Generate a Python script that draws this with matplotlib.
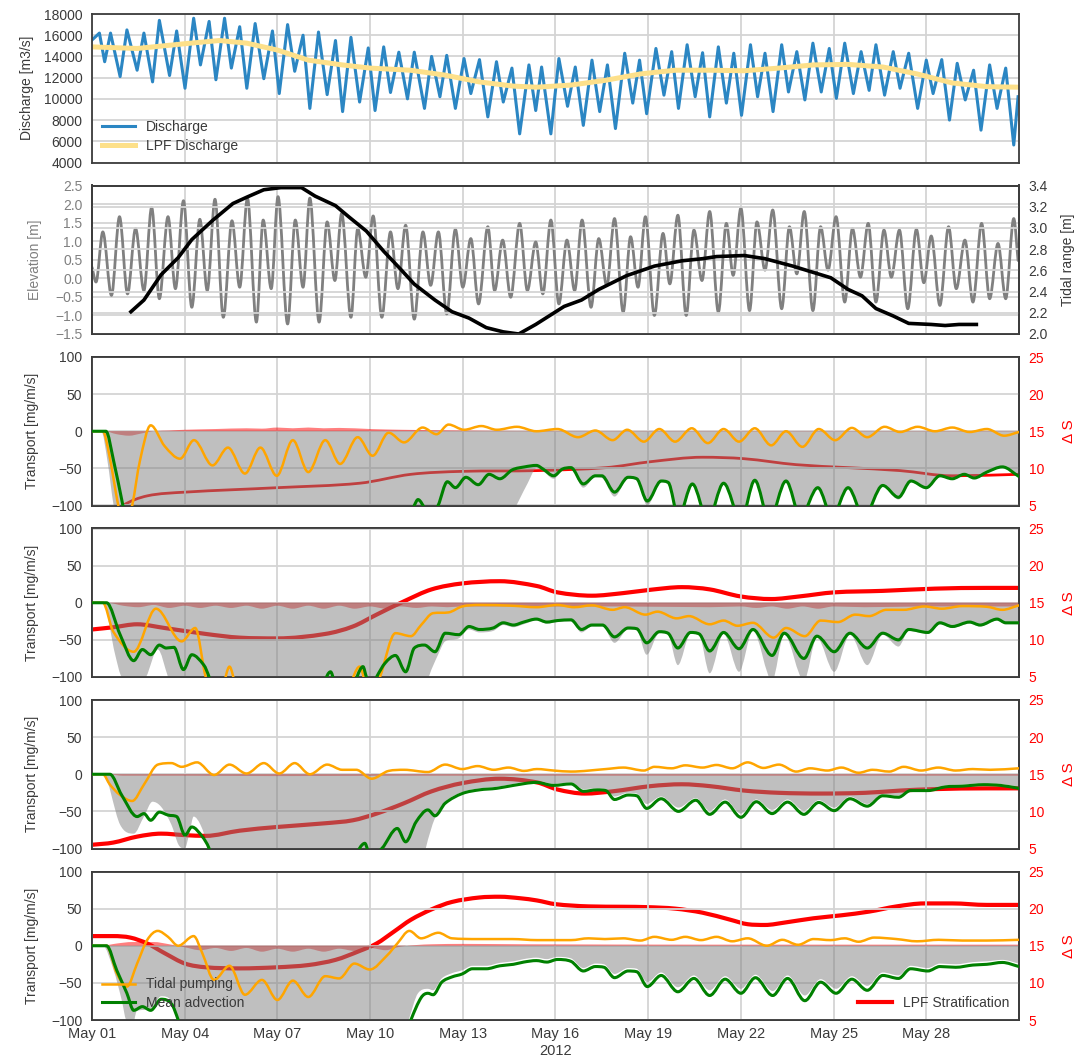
import numpy as np
import matplotlib
matplotlib.use("Agg")
import matplotlib.pyplot as plt
import matplotlib.dates as mdates
from matplotlib.path import Path
from matplotlib.patches import PathPatch
from matplotlib.lines import Line2D
from datetime import datetime

plt.rcParams['font.family'] = ['Liberation Sans', 'DejaVu Sans']
plt.rcParams['font.size'] = 10

# ---------------------------------------------------------------- data
# times are days after 2012-05-01 00:00
discharge = [(0.00, 15550), (0.24, 16200), (0.41, 13500), (0.60, 16200), (0.91, 12100), (1.13, 16500),
             (1.46, 12700), (1.68, 16200), (1.96, 11600), (2.18, 17400), (2.51, 12200), (2.74, 16400),
             (3.01, 11000), (3.29, 17600), (3.51, 13200), (3.79, 17300), (4.01, 11800), (4.29, 17600),
             (4.51, 12900), (4.78, 16800), (5.01, 11000), (5.28, 17100), (5.56, 11900), (5.84, 16400),
             (6.06, 10500), (6.33, 17000), (6.56, 12600), (6.83, 16000), (7.05, 9100), (7.33, 16300),
             (7.61, 10400), (7.88, 15500), (8.11, 8800), (8.38, 15800), (8.66, 9700), (8.94, 14800),
             (9.16, 8900), (9.44, 14900), (9.66, 10600), (9.93, 14400), (10.21, 10000), (10.43, 14400),
             (10.76, 9100), (10.99, 14000), (11.26, 10200), (11.48, 14100), (11.76, 9100), (12.04, 13800),
             (12.26, 10500), (12.54, 13700), (12.81, 8300), (13.09, 13500), (13.31, 9700), (13.59, 12900),
             (13.84, 6700), (14.14, 13200), (14.36, 8900), (14.55, 13000), (14.85, 6700), (15.11, 13800),
             (15.39, 9300), (15.64, 13000), (15.90, 7500), (16.18, 13650), (16.43, 8800), (16.68, 13200),
             (16.94, 7200), (17.24, 14300), (17.50, 9600), (17.72, 13650), (17.95, 8600), (18.25, 14750),
             (18.51, 10350), (18.76, 14450), (18.98, 9100), (19.26, 15100), (19.52, 10200), (19.76, 14350),
             (19.99, 8300), (20.27, 14900), (20.53, 9600), (20.77, 14300), (21.02, 8450), (21.31, 15100),
             (21.54, 10200), (21.78, 14300), (22.04, 8800), (22.32, 15100), (22.54, 10650), (22.81, 14450),
             (23.07, 9900), (23.33, 15250), (23.60, 10650), (23.86, 14750), (24.09, 10050), (24.36, 15250),
             (24.64, 10500), (24.89, 14450), (25.15, 10800), (25.37, 15100), (25.65, 10350), (25.93, 14450),
             (26.15, 11000), (26.43, 14300), (26.72, 9100), (27.00, 13650), (27.22, 10500), (27.50, 13700),
             (27.75, 8000), (28.00, 13350), (28.26, 9900), (28.53, 12700), (28.77, 7050), (29.05, 13200),
             (29.29, 9100), (29.57, 12900), (29.83, 5650), (29.97, 10200)]

discharge_lpf = [(0.0, 14900), (1.46, 14750), (3.01, 15200), (4.12, 15500), (5.01, 15250), (6.0, 14600),
                 (7.0, 13650), (8.1, 13200), (9.0, 12900), (10.3, 12700), (11.4, 12250), (12.53, 11600),
                 (13.64, 11200), (14.4, 11100), (15.5, 11300), (16.62, 11750), (17.75, 12350), (18.87, 12700),
                 (19.99, 12700), (21.1, 12650), (22.23, 12900), (23.35, 13200), (24.47, 13250), (25.6, 13000),
                 (26.7, 12350), (27.84, 11500), (28.96, 11150), (29.97, 11100)]

elevation = [(0.0, 0.30), (0.13, -0.10), (0.35, 1.25), (0.63, -0.46), (0.89, 1.66), (1.15, -0.42),
             (1.41, 1.34), (1.68, -0.33), (1.93, 1.91), (2.18, -0.55), (2.46, 1.66), (2.70, -0.28),
             (2.96, 2.09), (3.23, -0.78), (3.49, 1.59), (3.73, -0.33), (3.98, 2.13), (4.25, -1.05),
             (4.53, 1.55), (4.78, -0.24), (5.03, 2.16), (5.32, -1.18), (5.54, 1.57), (5.80, -0.28),
             (6.02, 2.20), (6.33, -1.23), (6.58, 1.57), (6.83, -0.24), (7.05, 2.16), (7.35, -1.18),
             (7.61, 1.52), (7.86, -0.06), (8.08, 1.75), (8.38, -1.05), (8.60, 1.34), (8.86, 0.03),
             (9.10, 1.68), (9.38, -1.05), (9.66, 1.25), (9.90, -0.28), (10.15, 1.43), (10.43, -1.10),
             (10.71, 1.25), (10.96, -0.19), (11.21, 1.25), (11.48, -0.96), (11.76, 1.32), (12.00, -0.24),
             (12.26, 1.07), (12.51, -0.69), (12.81, 1.39), (13.03, -0.33), (13.29, 1.03), (13.55, -0.51),
             (13.84, 1.48), (14.09, -0.33), (14.36, 0.98), (14.59, -0.42), (14.85, 1.57), (15.11, -0.69),
             (15.37, 1.03), (15.62, -0.33), (15.86, 1.57), (16.15, -0.78), (16.40, 1.07), (16.66, -0.20),
             (16.91, 1.61), (17.19, -0.91), (17.43, 1.12), (17.67, -0.24), (17.91, 1.66), (18.20, -1.00),
             (18.48, 1.21), (18.70, -0.15), (18.96, 1.70), (19.23, -1.00), (19.48, 1.30), (19.74, -0.06),
             (19.99, 1.80), (20.27, -0.91), (20.53, 1.48), (20.75, 0.08), (21.00, 1.89), (21.28, -0.87),
             (21.52, 1.52), (21.78, 0.22), (22.03, 1.84), (22.32, -0.82), (22.57, 1.39), (22.81, 0.12),
             (23.05, 1.80), (23.33, -0.87), (23.58, 1.39), (23.82, 0.22), (24.08, 1.66), (24.36, -0.64),
             (24.61, 1.34), (24.87, 0.03), (25.12, 1.48), (25.37, -0.64), (25.63, 1.30), (25.87, 0.03),
             (26.13, 1.30), (26.40, -0.82), (26.68, 1.32), (26.92, -0.12), (27.16, 1.14), (27.44, -0.73),
             (27.72, 1.39), (27.97, -0.28), (28.25, 1.03), (28.51, -0.64), (28.79, 1.48), (29.05, -0.55),
             (29.32, 0.94), (29.57, -0.55), (29.83, 1.61), (29.97, 0.48)]

tidal_range = [(1.26, 2.21), (1.68, 2.32), (2.24, 2.56), (2.79, 2.72), (3.23, 2.89), (3.90, 3.07),
               (4.56, 3.23), (5.01, 3.29), (5.56, 3.36), (6.11, 3.38), (6.78, 3.38), (7.22, 3.30),
               (7.88, 3.21), (8.33, 3.10), (8.88, 2.97), (9.44, 2.78), (9.99, 2.61), (10.43, 2.47),
               (11.10, 2.32), (11.65, 2.21), (12.20, 2.15), (12.76, 2.06), (13.31, 2.02), (13.81, 2.00),
               (14.36, 2.09), (15.28, 2.26), (15.84, 2.32), (16.40, 2.42), (17.30, 2.55), (18.20, 2.64),
               (19.09, 2.69), (19.76, 2.71), (20.21, 2.73), (21.11, 2.74), (21.78, 2.71), (22.68, 2.64),
               (23.35, 2.58), (23.91, 2.53), (24.47, 2.42), (24.92, 2.36), (25.37, 2.24), (25.93, 2.17),
               (26.43, 2.10), (27.16, 2.09), (27.61, 2.08), (28.06, 2.09), (28.62, 2.09)]

# transport panels: tidal pumping, mean advection, total (shaded), residual band, LPF stratification
pump_a = [(0, 0), (0.35, 0), (0.55, -30), (0.85, -100), (1.05, -135), (1.3, -100), (1.55, -40), (1.9, 8),
          (2.35, -20), (2.85, -37), (3.3, -12), (3.9, -46), (4.4, -22), (4.95, -57), (5.45, -22), (5.98, -60),
          (6.5, -12), (7.0, -55), (7.55, -12), (8.03, -44), (8.6, -8), (9.08, -33), (9.6, -2), (10.1, -15),
          (10.7, 5), (11.15, -4), (11.54, 9), (12.04, 2), (12.6, 7), (13.1, 2), (13.75, 6), (14.38, 0),
          (15.06, 3), (15.73, -8), (16.29, 1), (16.85, -12), (17.32, 2), (17.86, -14), (18.36, 3),
          (18.87, -14), (19.41, 4), (19.93, -16), (20.44, 3), (20.94, -14), (21.45, 4), (21.98, -19),
          (22.46, 0), (22.99, -21), (23.52, 3), (24.05, -12), (24.59, 4.5), (25.09, -8), (25.65, 6),
          (26.15, -1), (26.72, 6), (27.28, 0), (27.84, 5), (28.40, -1), (28.96, 3), (29.52, -6), (30.0, -1)]
adv_a = [(0, 0), (0.45, 0), (0.7, -40), (1.0, -100), (1.3, -160), (2, -200), (5, -220), (9, -200),
         (10.1, -130), (10.43, -100), (10.55, -92), (10.8, -105), (11.0, -110), (11.2, -100), (11.5, -68),
         (11.76, -76), (12.1, -62), (12.5, -72), (12.85, -58), (13.2, -64), (13.6, -52), (14.0, -48),
         (14.38, -46), (14.6, -51), (14.94, -60), (15.22, -51), (15.5, -49), (15.9, -71), (16.29, -60),
         (16.5, -60), (16.91, -82), (17.35, -62), (17.63, -64), (17.97, -94), (18.42, -67), (18.65, -69),
         (18.98, -115), (19.43, -71), (19.93, -120), (20.44, -70), (21.0, -120), (21.45, -66), (21.92, -120),
         (22.46, -67), (22.93, -115), (23.49, -76), (23.95, -115), (24.47, -76), (24.98, -115), (25.59, -73),
         (26.1, -89), (26.5, -67), (27.0, -76), (27.44, -60), (27.84, -64), (28.23, -58), (28.55, -63),
         (28.96, -55), (29.46, -48), (30.0, -61)]
total_a = [(0, 0), (0.3, 0), (0.5, -40), (0.7, -100), (1.0, -160), (5, -200), (10, -200), (12.8, -160),
           (13.6, -110), (14.1, -70), (14.38, -50), (14.6, -54), (14.94, -64), (15.22, -53), (15.5, -51),
           (15.9, -76), (16.29, -62), (16.5, -63), (16.91, -88), (17.35, -64), (17.63, -66), (17.97, -100),
           (18.42, -69), (18.65, -72), (18.98, -125), (19.43, -72), (19.93, -125), (20.44, -72), (21.0, -125),
           (21.45, -68), (21.92, -125), (22.46, -69), (22.93, -120), (23.49, -78), (23.95, -120),
           (24.47, -78), (24.98, -120), (25.59, -74), (26.1, -92), (26.5, -68), (27.0, -78), (27.44, -61),
           (27.84, -65), (28.23, -59), (28.55, -64), (28.96, -56), (29.46, -49), (30.0, -62)]
band_a = [(0, 0), (0.4, 0), (0.8, -4), (1.2, -6), (1.6, -3), (2.0, 0), (2.5, 1), (3.0, 2), (4.0, 3), (5.0, 4),
          (5.5, 3.5), (6.0, 5), (6.5, 4), (7.0, 5), (7.5, 4), (8.0, 4.5), (9.0, 3), (10.0, 2), (11.0, 1.5),
          (12.0, 1), (14.0, 0.5), (20.0, 0.4), (30.0, 0.4)]
strat_a = [(0, 1.5), (0.8, 3.8), (1.0, 5.0), (1.79, 6.3), (3.01, 6.8), (6.0, 7.4), (8.66, 8.0), (10.32, 9.2),
           (11.98, 9.6), (14.4, 9.7), (16.63, 10.1), (18.08, 10.9), (19.76, 11.5), (21.11, 11.3),
           (22.79, 10.5), (24.47, 10.1), (26.15, 9.7), (27.84, 9.0), (30.0, 9.2)]

pump_b = [(0, 0), (0.35, 0), (0.69, -39), (1.35, -66), (2.07, -8), (2.9, -52), (3.34, -34), (3.68, -100),
          (4.0, -130), (4.25, -110), (4.45, -86), (4.65, -110), (5.5, -160), (7.5, -160), (8.3, -115),
          (8.66, -86), (8.9, -115), (9.1, -120), (9.32, -100), (9.82, -41), (10.32, -45), (10.65, -30),
          (11.04, -14), (11.54, -13), (11.98, -5), (12.54, -3), (13.6, -4), (14.38, -6), (15.06, -3),
          (15.6, -6), (16.18, -3.5), (16.85, -9.5), (17.24, -6), (17.91, -16), (18.3, -12), (18.92, -21),
          (19.32, -18), (19.99, -29), (20.44, -24), (20.89, -31), (21.39, -27), (22.06, -47), (22.46, -34),
          (23.07, -45), (23.58, -24), (24.14, -26), (24.70, -16), (25.15, -18), (25.71, -9.5), (26.27, -9.5),
          (26.94, -5), (27.5, -8), (28.17, -4.5), (28.96, -5.4), (29.46, -9.5), (30.0, -3.5)]
adv_b = [(0, 0), (0.47, 0), (0.91, -43), (1.35, -78), (1.63, -63), (1.9, -70), (2.18, -57), (2.4, -61),
         (2.65, -60), (2.96, -90), (3.23, -70), (3.62, -84), (3.79, -100), (4.2, -150), (6, -200),
         (7.3, -130), (7.72, -93), (7.95, -120), (8.4, -115), (8.77, -86), (8.88, -100), (9.05, -115),
         (9.21, -100), (9.49, -81), (9.82, -71), (10.15, -93), (10.43, -61), (10.76, -57), (11.1, -66),
         (11.43, -41), (11.87, -43), (12.2, -32), (12.54, -36), (12.98, -34), (13.31, -27), (13.64, -30),
         (13.97, -26), (14.38, -22), (14.72, -26), (15.06, -24), (15.5, -23), (15.84, -36), (16.18, -30),
         (16.52, -30), (16.91, -46), (17.35, -34), (17.63, -35), (17.95, -54), (18.36, -39), (18.64, -41),
         (18.96, -61), (19.37, -40), (19.65, -42), (19.99, -65), (20.44, -40), (20.94, -62), (21.39, -36),
         (22.01, -71), (22.4, -41), (23.04, -75), (23.46, -45), (24.02, -66), (24.53, -41), (25.09, -61),
         (25.59, -41), (26.1, -50), (26.43, -36), (27.05, -40), (27.44, -27), (27.84, -32), (28.40, -26),
         (28.74, -30), (29.29, -22), (29.57, -27), (30.0, -27)]
total_b = [(0, 0), (0.35, 0), (0.75, -70), (0.96, -100), (1.5, -110), (1.75, -100), (2.13, -63),
           (2.46, -100), (2.8, -140), (6, -200), (10.5, -160), (10.9, -100), (11.2, -70), (11.43, -52),
           (11.87, -48), (12.2, -36), (12.54, -40), (12.98, -38), (13.31, -30), (13.64, -33), (13.97, -29),
           (14.38, -24), (14.72, -28), (15.06, -26), (15.5, -25), (15.84, -40), (16.18, -32), (16.52, -32),
           (16.91, -54), (17.35, -36), (17.63, -37), (17.95, -70), (18.36, -41), (18.64, -43), (18.96, -84),
           (19.37, -42), (19.65, -44), (19.99, -95), (20.44, -42), (20.94, -93), (21.39, -38), (22.01, -105),
           (22.4, -43), (23.04, -105), (23.46, -47), (24.02, -93), (24.53, -43), (25.09, -84), (25.59, -43),
           (26.1, -59), (26.43, -38), (27.05, -42), (27.44, -29), (27.84, -34), (28.40, -28), (28.74, -32),
           (29.29, -24), (29.57, -29), (30.0, -29)]
band_b = [(0, 0), (0.5, 0), (1.0, -4), (1.5, -6), (2.0, -3), (2.5, -7), (3.0, -4), (3.5, -7), (4.0, -4),
          (4.5, -7), (5.0, -4), (5.5, -8), (6.0, -4), (6.5, -8), (7.0, -4), (7.5, -8), (8.0, -4), (8.5, -8),
          (9.0, -5), (9.5, -8), (10.0, -5), (10.5, -7), (11.0, -5), (11.5, -6), (12.0, -5), (14.0, -5),
          (17.0, -5), (20.0, -6), (21.0, -5), (21.5, -7), (22.0, -5), (22.5, -8), (23.0, -5), (23.5, -8),
          (24.0, -5), (25.0, -6), (27.0, -5), (30.0, -5)]
strat_b = [(0, 11.4), (0.69, 11.7), (1.46, 12.1), (2.35, 11.6), (3.68, 10.8), (4.78, 10.3), (6.0, 10.2),
           (7.55, 10.8), (8.44, 11.8), (9.21, 13.4), (10.1, 15.2), (10.99, 16.8), (11.98, 17.6), (13.2, 17.9),
           (14.4, 17.25), (15.06, 16.4), (16.18, 15.95), (17.19, 16.3), (18.08, 16.75), (19.09, 17.1),
           (19.99, 16.8), (20.99, 15.85), (21.99, 15.5), (22.89, 15.85), (24.02, 16.4), (25.59, 16.6),
           (27.28, 16.9), (28.96, 17.0), (30.0, 17.0)]

pump_c = [(0, 0), (0.35, 0), (0.58, -14), (0.91, -28), (1.3, -36), (1.68, -14), (2.13, 13), (2.57, 15),
          (2.9, 10), (3.4, 16), (3.95, -1), (4.45, 13), (5.0, 1), (5.56, 15), (6.06, 1), (6.56, 15), (7.05, 0),
          (7.61, 13), (8.1, 6), (8.55, 6), (9.05, -6), (9.6, 4.5), (10.1, 6), (10.87, 3), (11.43, 13),
          (11.98, 7), (12.48, 11), (13.0, 6), (13.48, 9), (13.98, 4.5), (14.4, 7), (14.94, 5), (15.5, 3.6),
          (16.63, 7), (17.19, 9), (17.86, 5), (18.2, 10), (18.76, 8), (19.2, 12), (19.76, 9), (20.21, 12.5),
          (20.72, 8), (21.22, 16), (21.73, 8.5), (22.23, 13), (22.79, 3.6), (23.24, 8), (23.8, 5), (24.25, 9),
          (24.81, 2), (25.26, 6), (25.8, 3.6), (26.27, 10), (26.83, 5), (27.39, 9), (27.95, 5), (28.5, 7),
          (29.07, 6), (30.0, 8)]
adv_c = [(0, 0), (0.58, 0), (0.96, -28), (1.46, -57), (1.68, -53), (1.9, -62), (2.18, -51), (2.46, -55),
         (2.74, -57), (3.01, -82), (3.23, -71), (3.57, -84), (3.79, -100), (4.2, -150), (6, -200), (8.0, -140),
         (8.5, -110), (8.83, -93), (9.0, -110), (9.38, -100), (9.88, -73), (10.15, -91), (10.49, -64),
         (10.87, -48), (11.1, -56), (11.43, -39), (11.98, -26), (12.54, -21), (13.09, -19), (13.64, -15),
         (14.38, -11), (14.94, -15), (15.5, -13), (15.9, -23), (16.35, -21), (16.63, -22), (16.91, -34),
         (17.35, -28), (17.63, -29), (17.95, -46), (18.42, -33), (18.98, -50), (19.54, -35), (19.99, -54),
         (20.49, -37.5), (21.0, -58), (21.5, -37), (22.01, -53), (22.51, -37.5), (23.04, -54), (23.52, -38),
         (24.02, -49), (24.53, -33), (25.09, -43), (25.59, -29), (26.1, -31), (26.49, -22), (27.05, -22),
         (27.61, -17), (28.17, -16), (28.85, -14), (29.4, -15), (30.0, -19)]
total_c = [(0, 0), (0.35, 0), (0.91, -68), (1.35, -80), (1.68, -57), (1.96, -37), (2.24, -44), (2.57, -68),
           (2.8, -95), (3.0, -100), (3.15, -80), (3.29, -57), (3.51, -68), (3.79, -100), (4.2, -150),
           (6, -200), (10.5, -160), (10.8, -100), (11.1, -59), (11.43, -37), (11.98, -24), (12.54, -19),
           (13.09, -17), (13.64, -13), (14.38, -9), (14.94, -13), (15.5, -11), (15.9, -20), (16.35, -19),
           (16.63, -20), (16.91, -30), (17.35, -25), (17.63, -26), (17.95, -40), (18.42, -30), (18.98, -45),
           (19.54, -32), (19.99, -49), (20.49, -34), (21.0, -53), (21.5, -34), (22.01, -48), (22.51, -34),
           (23.04, -49), (23.52, -35), (24.02, -45), (24.53, -30), (25.09, -40), (25.59, -27), (26.1, -29),
           (26.49, -20), (27.05, -20), (27.61, -15), (28.17, -14), (28.85, -12), (29.4, -13), (30.0, -17)]
band_c = [(0, 0), (0.5, 0), (1.0, -2), (3.0, -2), (6.0, -2.5), (10.0, -2), (14.0, -2), (20.0, -2), (30.0, -2)]
strat_c = [(0, 5.5), (0.69, 5.8), (1.46, 6.6), (2.24, 7.0), (3.01, 6.8), (3.68, 6.7), (4.78, 7.4), (6.0, 7.9),
           (7.55, 8.4), (8.44, 8.8), (9.21, 9.7), (10.1, 11.1), (10.99, 12.7), (11.98, 13.8), (13.2, 14.4),
           (14.4, 13.9), (15.06, 12.95), (15.95, 12.4), (16.85, 12.7), (18.08, 13.4), (19.09, 13.65),
           (19.99, 13.4), (21.11, 12.8), (22.23, 12.5), (23.58, 12.4), (25.03, 12.5), (26.15, 12.8),
           (27.28, 13.0), (28.96, 13.1), (30.0, 13.1)]

pump_d = [(0, 0), (0.47, 0), (0.8, -37), (1.13, -55), (1.46, -24), (1.79, 8), (2.13, 20), (2.46, 12),
          (2.79, 0), (3.29, 13), (3.57, -10), (3.95, -46), (4.45, -27), (4.95, -66), (5.5, -46), (6.0, -73),
          (6.5, -47), (7.0, -69), (7.55, -41), (8.0, -44), (8.49, -24), (8.99, -32), (9.55, -13), (9.88, 3),
          (10.27, 20), (10.65, 10), (11.21, 17.5), (11.65, 10), (12.5, 9), (13.6, 9), (14.4, 7.6), (15.5, 7.6),
          (16.07, 10), (16.6, 9), (17.19, 10), (17.75, 7), (18.2, 12), (18.76, 8), (19.2, 12), (19.71, 7.6),
          (20.21, 12), (20.72, 6), (21.22, 10), (21.84, 0), (22.34, 8), (22.85, 1.3), (23.35, 9), (23.9, 7.6),
          (24.36, 10), (24.81, 5.4), (25.31, 11), (26.04, 9), (26.7, 6), (27.4, 8), (28.17, 7), (28.96, 7),
          (30.0, 8)]
adv_d = [(0, 0), (0.47, 0), (0.8, -33), (1.13, -64), (1.35, -87), (1.63, -82), (1.9, -87), (2.24, -72),
         (2.57, -78), (2.79, -100), (3.2, -150), (6, -200), (9.8, -160), (10.32, -100), (10.65, -70),
         (10.87, -64), (11.04, -66), (11.32, -49), (11.65, -42), (11.98, -38), (12.31, -31), (12.76, -31),
         (13.2, -27), (13.64, -25), (13.97, -22), (14.38, -20), (14.72, -22), (15.06, -18.5), (15.5, -21),
         (15.9, -34), (16.29, -28), (16.57, -29), (16.91, -43), (17.35, -34), (17.63, -35), (17.97, -55),
         (18.42, -40), (18.96, -62), (19.48, -44), (19.99, -67), (20.49, -45), (21.0, -64), (21.47, -43),
         (22.03, -67), (22.51, -44), (23.07, -74), (23.58, -49), (24.08, -64), (24.59, -45), (25.09, -60),
         (25.59, -40), (26.1, -44), (26.49, -31), (27.05, -34), (27.44, -28), (27.95, -29), (28.51, -26),
         (28.96, -25), (29.46, -22.5), (30.0, -28)]
total_d = [(0, 0), (0.35, 0), (0.7, -33), (0.96, -73), (1.1, -100), (1.3, -110), (1.45, -88), (1.9, -85),
           (2.24, -68), (2.57, -74), (2.8, -100), (3.2, -150), (6, -200), (9.8, -160), (10.25, -100),
           (10.55, -64), (10.87, -58), (11.04, -60), (11.32, -44), (11.65, -37), (11.98, -33), (12.31, -27),
           (12.76, -27), (13.2, -23), (13.64, -21), (13.97, -18), (14.38, -16), (14.72, -18), (15.06, -15),
           (15.5, -17), (15.9, -30), (16.29, -24), (16.57, -25), (16.91, -38), (17.35, -30), (17.63, -31),
           (17.97, -49), (18.42, -36), (18.96, -56), (19.48, -40), (19.99, -60), (20.49, -41), (21.0, -58),
           (21.47, -39), (22.03, -61), (22.51, -40), (23.07, -67), (23.58, -45), (24.08, -58), (24.59, -41),
           (25.09, -54), (25.59, -36), (26.1, -40), (26.49, -27), (27.05, -30), (27.44, -24), (27.95, -25),
           (28.51, -22), (28.96, -21), (29.46, -19), (30.0, -24)]
band_d = [(0, 0), (0.3, 0), (0.8, 3), (1.3, 5), (2.0, 5), (2.5, 2), (3.0, -2), (3.5, -6), (4.0, -3), (4.5, -7),
          (5.0, -3), (5.5, -8), (6.0, -4), (6.5, -8), (7.0, -4), (7.5, -8), (8.0, -4), (8.5, -7), (9.0, -3),
          (9.5, -6), (10.0, -1), (10.5, 1), (11.0, 2), (12.0, 2.5), (14.0, 2), (20.0, 1.5), (30.0, 1.5)]
strat_d = [(0, 16.3), (0.69, 16.3), (1.24, 16.1), (1.79, 15.3), (2.35, 14.0), (3.01, 12.6), (3.68, 12.1),
           (4.78, 11.95), (6.0, 12.1), (7.0, 12.4), (7.88, 13.1), (8.66, 14.3), (9.21, 15.3), (9.77, 16.9),
           (10.32, 18.5), (10.99, 19.9), (11.65, 20.9), (12.54, 21.5), (13.2, 21.6), (13.85, 21.4),
           (14.4, 21.1), (15.0, 20.6), (16.07, 20.3), (17.19, 20.25), (17.97, 20.2), (18.87, 20.0),
           (19.76, 19.45), (20.66, 18.5), (21.22, 17.9), (21.78, 17.8), (22.46, 18.15), (23.35, 18.7),
           (24.25, 19.1), (25.15, 19.6), (26.04, 20.3), (26.94, 20.7), (27.84, 20.7), (28.96, 20.5),
           (30.0, 20.5)]

panels = [
    dict(pump=pump_a, adv=adv_a, total=total_a, band=band_a, strat=strat_a, slw=2.0),
    dict(pump=pump_b, adv=adv_b, total=total_b, band=band_b, strat=strat_b, slw=3.0),
    dict(pump=pump_c, adv=adv_c, total=total_c, band=band_c, strat=strat_c, slw=3.0),
    dict(pump=pump_d, adv=adv_d, total=total_d, band=band_d, strat=strat_d, slw=3.0),
]

date_ticks = [1, 4, 7, 10, 13, 16, 19, 22, 25, 28]
discharge_ticks = np.arange(4000, 18001, 2000)
elev_ticks = np.arange(-1.5, 2.51, 0.5)
range_ticks = np.arange(2.0, 3.41, 0.2)
transport_ticks = [-100, -50, 0, 50, 100]
ds_ticks = [5, 10, 15, 20, 25]

# ---------------------------------------------------------------- helpers
T0 = mdates.date2num(datetime(2012, 5, 1))


def series(pts):
    a = np.asarray(pts, dtype=float)
    return T0 + a[:, 0], a[:, 1]


def smooth_path(x, y, base=None):
    """Piecewise cubic (Hermite as Bezier) path through the points."""
    n = len(x)
    d = np.diff(y) / np.diff(x)
    m = np.zeros(n)
    m[0], m[-1] = d[0], d[-1]
    for i in range(1, n - 1):
        if d[i - 1] * d[i] <= 0:
            m[i] = 0.0
        else:
            s = (y[i + 1] - y[i - 1]) / (x[i + 1] - x[i - 1])
            lim = 3 * min(abs(d[i - 1]), abs(d[i]))
            m[i] = np.sign(s) * min(abs(s), lim)
    verts, codes = [], []
    if base is None:
        verts.append((x[0], y[0])); codes.append(Path.MOVETO)
    else:
        verts.append((x[0], base)); codes.append(Path.MOVETO)
        verts.append((x[0], y[0])); codes.append(Path.LINETO)
    for i in range(n - 1):
        h = x[i + 1] - x[i]
        verts += [(x[i] + h / 3, y[i] + m[i] * h / 3),
                  (x[i + 1] - h / 3, y[i + 1] - m[i + 1] * h / 3),
                  (x[i + 1], y[i + 1])]
        codes += [Path.CURVE4] * 3
    if base is not None:
        verts.append((x[-1], base)); codes.append(Path.LINETO)
        verts.append((x[0], base)); codes.append(Path.CLOSEPOLY)
    return Path(verts, codes)


def smooth_line(ax, pts, color, lw, z=3):
    x, y = series(pts)
    ax.add_patch(PathPatch(smooth_path(x, y), fill=False, edgecolor=color, lw=lw,
                           capstyle='round', joinstyle='round', zorder=z))


def smooth_fill(ax, pts, color, alpha, z=1):
    x, y = series(pts)
    ax.add_patch(PathPatch(smooth_path(x, y, base=0.0), facecolor=color, edgecolor='none',
                           alpha=alpha, zorder=z))


TXT = '#3a3a3a'
GRID = '#d4d4d4'


def style(ax, grid=True):
    ax.set_facecolor('none')
    for s in ax.spines.values():
        s.set_color('#3c3c3c')
        s.set_linewidth(1.3)
    ax.tick_params(length=0, pad=7, labelsize=10, colors=TXT)
    if grid:
        ax.grid(True, color=GRID, lw=1.3)
        ax.set_axisbelow(True)


# ---------------------------------------------------------------- figure
fig = plt.figure(figsize=(10.84, 10.61), dpi=100)
W, H = 1084.0, 1061.0
left, right = 92.0, 1019.0
tops = [14.0, 185.5, 357.0, 528.5, 700.0, 871.5]
hgt = 148.5
axes = []
for i, t in enumerate(tops):
    rect = [left / W, 1 - (t + hgt) / H, (right - left) / W, hgt / H]
    ax = fig.add_axes(rect, sharex=axes[0] if axes else None)
    axes.append(ax)

x_lo, x_hi = T0, T0 + 30
for ax in axes:
    ax.xaxis.set_major_locator(mdates.DayLocator(bymonthday=date_ticks))
    ax.xaxis.set_major_formatter(mdates.DateFormatter('%b %d'))
    ax.set_xlim(x_lo, x_hi)

LPAD, RPAD = 9, 9

# discharge
ax = axes[0]
style(ax)
qx, qy = series(discharge)
lx, ly = series(discharge_lpf)
ax.plot(qx, qy, color='#2b86c3', lw=2.2, solid_joinstyle='round', label='Discharge')
ax.plot(lx, ly, color='#fde08a', lw=3.6, label='LPF Discharge')
ax.set_ylim(4000, 18000)
ax.set_yticks(discharge_ticks)
ax.set_ylabel('Discharge [m3/s]', color=TXT, labelpad=LPAD - 2)
leg = ax.legend(loc='lower left', frameon=False, fontsize=10, handlelength=2.4,
                borderaxespad=0.3, labelspacing=0.35)
for t in leg.get_texts():
    t.set_color(TXT)

# elevation and tidal range
ax = axes[1]
style(ax)
smooth_line(ax, elevation, '#808080', 2.0, z=2)
ax.set_ylim(-1.5, 2.5)
ax.set_yticks(elev_ticks)
ax.tick_params(axis='y', colors='#808080')
ax.set_ylabel('Elevation [m]', color='#808080', labelpad=LPAD)
axr = ax.twinx()
style(axr)
axr.xaxis.grid(False)
rx, ry = series(tidal_range)
axr.plot(rx, ry, color='black', lw=2.6, solid_joinstyle='round')
axr.set_ylim(2.0, 3.4)
axr.set_yticks(range_ticks)
axr.set_ylabel('Tidal range [m]', color=TXT, labelpad=RPAD)

# transport panels
for k, p in enumerate(panels):
    ax = axes[2 + k]
    axs = ax.twinx()
    style(axs, grid=False)
    style(ax)
    ax.set_zorder(axs.get_zorder() + 1)
    ax.patch.set_visible(False)

    smooth_line(axs, p['strat'], 'red', p['slw'], z=2)
    axs.set_ylim(5, 25)
    axs.set_yticks(ds_ticks)
    axs.tick_params(axis='y', colors='red')
    axs.set_ylabel('Δ S', color='red', fontsize=11, labelpad=RPAD + 4)

    smooth_fill(ax, p['band'], 'red', 0.5, z=1)
    smooth_fill(ax, p['total'], 'grey', 0.5, z=1.5)
    smooth_line(ax, p['pump'], 'orange', 1.8, z=3)
    smooth_line(ax, p['adv'], 'green', 2.2, z=3)
    ax.set_ylim(-100, 100)
    ax.set_yticks(transport_ticks)
    ax.set_ylabel('Transport [mg/m/s]', color=TXT, labelpad=LPAD)

    if k == 3:
        h1 = [Line2D([], [], color='orange', lw=1.8, label='Tidal pumping'),
              Line2D([], [], color='green', lw=2.2, label='Mean advection')]
        lg1 = ax.legend(handles=h1, loc='lower left', frameon=False, fontsize=10, handlelength=2.4,
                        borderaxespad=0.3, labelspacing=0.35)
        for t in lg1.get_texts():
            t.set_color(TXT)
        ax.add_artist(lg1)
        h2 = [Line2D([], [], color='red', lw=3.0, label='LPF Stratification')]
        lg2 = ax.legend(handles=h2, loc='lower right', frameon=False, fontsize=10, handlelength=2.4,
                        borderaxespad=0.3)
        for t in lg2.get_texts():
            t.set_color(TXT)

for ax in axes[:-1]:
    ax.tick_params(labelbottom=False)
axes[-1].tick_params(axis='x', labelsize=10.5, pad=5)
axes[-1].set_xlabel('2012', fontsize=10.5, color=TXT, labelpad=2)

fig.savefig('out.png', dpi=100)
